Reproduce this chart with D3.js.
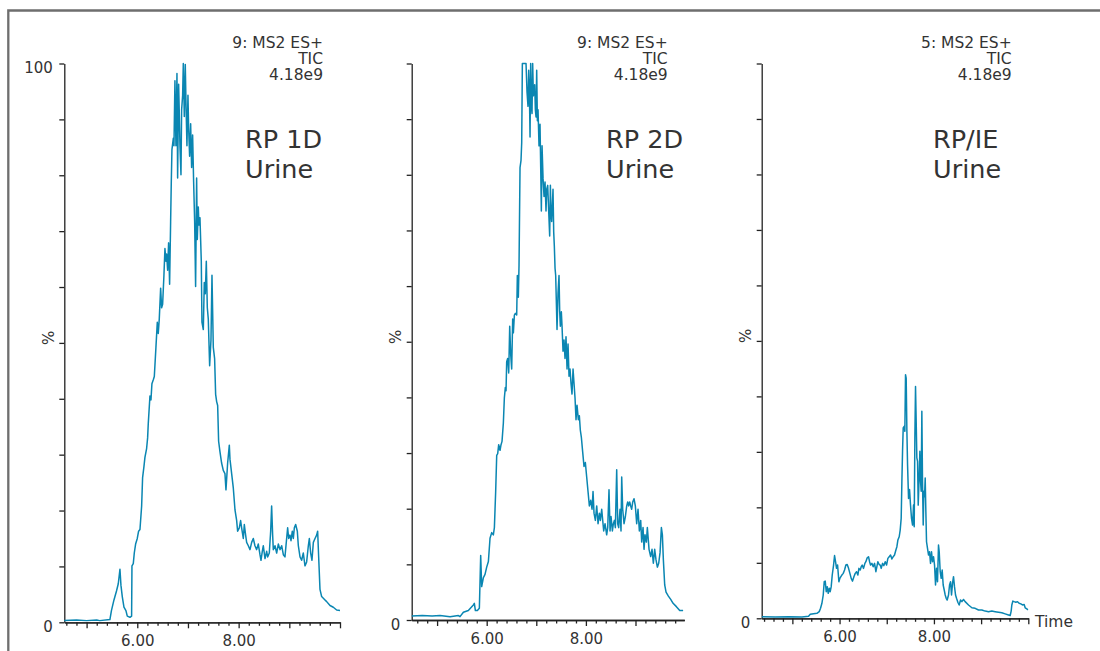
<!DOCTYPE html>
<html>
<head>
<meta charset="utf-8">
<script src="https://cdn.jsdelivr.net/npm/d3@7"></script>
<style>
    body { margin: 0; background: #fff; }
    svg { display: block; }
    text { font-family: "DejaVu Sans", Verdana, sans-serif; fill: #333; }
</style>
</head>
<body>
<svg id="chart" width="1100" height="651"></svg>
<script>
// chromatogram traces: [time (min), intensity (%)]
var rp1dTrace = [
    [4.56,0.3],[4.8,0.4],[5.0,0.3],[5.2,0.4],[5.26,0.3],[5.46,0.5],[5.49,2.1],[5.54,4.0],[5.59,5.6],[5.625,6.9],[5.658,9.5],[5.678,6.6],[5.704,4.6],[5.737,2.7],[5.776,2.1],[5.803,1.1],[5.855,0.9],[5.888,1.1],[5.895,10.1],[5.921,10.5],[5.941,12.4],[5.967,14.0],[6.0,15.0],[6.026,16.3],[6.053,16.6],[6.086,20.8],[6.105,25.9],[6.132,27.9],[6.151,29.5],[6.184,31.1],[6.204,33.0],[6.217,35.6],[6.25,40.5],[6.27,39.8],[6.289,42.7],[6.316,43.4],[6.336,44.0],[6.368,49.2],[6.395,53.7],[6.414,51.7],[6.434,54.3],[6.461,59.8],[6.48,56.3],[6.5,56.9],[6.526,62.1],[6.546,66.9],[6.566,64.6],[6.579,65.9],[6.599,63.0],[6.618,67.9],[6.638,60.5],[6.658,71.7],[6.671,78.8],[6.684,84.6],[6.711,86.6],[6.724,85.3],[6.743,96.9],[6.763,85.3],[6.783,98.2],[6.796,79.5],[6.816,96.3],[6.829,91.1],[6.842,85.3],[6.862,80.1],[6.875,91.7],[6.895,94.3],[6.908,100],[6.928,90.5],[6.947,99.8],[6.961,93.0],[6.98,85.3],[7.0,94.3],[7.013,88.5],[7.033,83.4],[7.053,89.2],[7.072,81.4],[7.092,87.2],[7.112,78.8],[7.132,71.7],[7.151,60.1],[7.171,79.5],[7.184,68.5],[7.204,74.3],[7.217,71.1],[7.237,72.4],[7.263,64.6],[7.276,53.7],[7.303,52.4],[7.322,60.8],[7.342,58.8],[7.362,64.6],[7.382,56.3],[7.401,54.3],[7.428,45.9],[7.454,50.5],[7.474,62.1],[7.5,49.2],[7.526,47.2],[7.546,40.8],[7.566,39.5],[7.586,38.8],[7.605,32.4],[7.632,30.5],[7.664,28.5],[7.697,27.2],[7.73,26.6],[7.75,23.7],[7.783,28.5],[7.816,31.7],[7.829,29.2],[7.862,26.6],[7.895,24.0],[7.928,20.1],[7.961,18.2],[7.98,16.3],[8.013,16.9],[8.039,18.2],[8.059,16.9],[8.092,15.0],[8.112,17.5],[8.138,15.6],[8.158,14.3],[8.191,13.7],[8.224,13.0],[8.257,14.3],[8.289,15.0],[8.322,13.7],[8.355,13.0],[8.388,14.0],[8.421,12.1],[8.441,11.1],[8.467,12.7],[8.487,13.7],[8.52,11.4],[8.553,12.7],[8.572,11.7],[8.605,12.4],[8.632,16.3],[8.651,20.8],[8.671,15.6],[8.684,13.0],[8.717,13.7],[8.75,12.4],[8.783,14.0],[8.816,13.0],[8.849,13.7],[8.882,12.1],[8.914,11.7],[8.947,15.0],[8.967,16.9],[8.987,15.0],[9.013,15.6],[9.033,14.6],[9.059,16.3],[9.079,15.0],[9.099,16.9],[9.125,17.5],[9.158,16.3],[9.178,13.7],[9.211,11.7],[9.243,11.1],[9.276,12.4],[9.309,10.1],[9.342,10.8],[9.375,13.7],[9.395,15.0],[9.421,12.4],[9.447,11.1],[9.474,14.3],[9.507,15.0],[9.539,15.6],[9.559,16.3],[9.579,11.7],[9.605,5.9],[9.638,4.6],[9.671,4.3],[9.704,4.0],[9.737,3.7],[9.803,3.0],[9.868,2.7],[9.934,2.2],[10.0,2.1]
];

var rp2dTrace = [
    [4.49,0.7],[4.7,0.8],[4.9,0.7],[5.059,0.8],[5.261,0.6],[5.429,0.8],[5.462,0.6],[5.53,1.4],[5.63,1.7],[5.731,2.7],[5.751,3.0],[5.772,1.7],[5.812,1.7],[5.852,2.1],[5.879,11.6],[5.899,6.0],[5.933,7.6],[5.966,8.2],[6.0,9.5],[6.034,10.5],[6.067,14.7],[6.101,15.7],[6.134,15.3],[6.155,16.6],[6.181,23.1],[6.202,29.6],[6.222,29.9],[6.242,31.5],[6.269,30.5],[6.289,31.5],[6.309,32.1],[6.336,35.4],[6.356,39.9],[6.376,41.8],[6.39,41.2],[6.403,46.4],[6.423,47.0],[6.444,44.4],[6.464,52.8],[6.484,47.7],[6.504,45.1],[6.524,54.1],[6.538,51.6],[6.558,54.8],[6.578,55.1],[6.605,54.8],[6.618,61.9],[6.638,58.0],[6.652,63.8],[6.672,81.3],[6.692,82.6],[6.706,85.8],[6.719,100],[6.739,100],[6.759,100],[6.793,100],[6.813,94.9],[6.833,92.3],[6.847,98.8],[6.86,95.5],[6.874,86.8],[6.887,100],[6.901,92.3],[6.914,91.0],[6.927,100],[6.941,94.2],[6.954,94.9],[6.968,96.2],[6.981,91.7],[6.995,90.4],[7.008,98.8],[7.022,89.7],[7.035,91.7],[7.055,85.2],[7.075,89.1],[7.089,81.3],[7.102,73.5],[7.116,85.2],[7.136,79.4],[7.156,76.1],[7.176,78.7],[7.196,73.5],[7.21,77.4],[7.23,78.1],[7.25,73.5],[7.27,69.0],[7.284,78.1],[7.297,72.9],[7.31,71.6],[7.337,77.4],[7.351,69.7],[7.364,67.1],[7.378,63.2],[7.391,61.9],[7.418,52.2],[7.438,58.7],[7.458,61.9],[7.472,55.4],[7.485,52.8],[7.505,55.4],[7.519,52.8],[7.539,48.3],[7.559,50.3],[7.579,47.0],[7.599,50.9],[7.62,45.1],[7.64,49.6],[7.66,43.8],[7.68,45.1],[7.7,42.5],[7.72,40.6],[7.741,45.1],[7.761,42.5],[7.781,39.9],[7.801,36.0],[7.821,38.6],[7.848,36.0],[7.868,36.7],[7.888,34.1],[7.909,32.8],[7.935,30.2],[7.962,27.6],[7.989,28.3],[8.016,25.7],[8.043,23.1],[8.07,20.5],[8.097,21.5],[8.124,19.9],[8.144,23.1],[8.164,19.2],[8.191,17.9],[8.218,20.5],[8.245,17.3],[8.272,19.2],[8.292,17.9],[8.319,19.9],[8.339,17.9],[8.359,16.0],[8.386,17.3],[8.419,15.3],[8.44,16.6],[8.466,23.4],[8.487,16.0],[8.507,18.6],[8.534,16.0],[8.554,17.3],[8.574,17.9],[8.594,16.6],[8.621,27.0],[8.641,17.3],[8.661,16.6],[8.688,19.9],[8.708,16.0],[8.722,25.7],[8.742,19.9],[8.769,17.3],[8.796,18.6],[8.823,20.5],[8.843,21.2],[8.863,20.5],[8.883,21.2],[8.903,20.5],[8.923,19.9],[8.944,21.2],[8.97,21.8],[8.997,20.5],[9.024,17.3],[9.051,19.9],[9.078,16.0],[9.105,17.9],[9.125,14.0],[9.152,16.6],[9.172,12.7],[9.192,15.3],[9.219,14.0],[9.239,16.6],[9.273,12.7],[9.306,11.4],[9.333,12.7],[9.36,10.2],[9.387,12.7],[9.414,10.8],[9.441,9.5],[9.468,10.2],[9.495,12.1],[9.522,16.6],[9.542,15.3],[9.562,10.8],[9.589,6.3],[9.616,5.0],[9.663,4.3],[9.71,3.7],[9.758,3.0],[9.825,2.4],[9.892,1.7],[9.96,1.7]
];

var rpieTrace = [
    [4.355,0.3],[4.637,0.24],[4.919,0.3],[5.202,0.24],[5.343,0.36],[5.379,0.72],[5.449,0.84],[5.52,0.9],[5.569,1.2],[5.597,1.8],[5.626,2.7],[5.654,4.2],[5.675,6.6],[5.696,6.7],[5.718,4.8],[5.739,5.7],[5.76,4.5],[5.781,5.4],[5.802,4.8],[5.823,5.7],[5.845,7.8],[5.873,9.6],[5.894,11.3],[5.915,10.2],[5.936,9.0],[5.958,9.6],[5.986,6.6],[6.007,7.2],[6.028,7.5],[6.049,7.8],[6.078,8.1],[6.106,8.7],[6.134,9.6],[6.162,9.7],[6.191,9.0],[6.219,8.1],[6.247,7.2],[6.275,6.7],[6.304,7.5],[6.332,8.1],[6.36,8.4],[6.388,7.8],[6.41,9.0],[6.438,8.7],[6.459,9.3],[6.48,9.6],[6.508,9.0],[6.537,9.9],[6.558,10.2],[6.586,10.9],[6.614,11.1],[6.636,10.2],[6.657,9.6],[6.685,9.9],[6.713,9.3],[6.742,9.9],[6.77,8.4],[6.791,9.3],[6.812,10.2],[6.84,9.7],[6.862,9.6],[6.883,9.0],[6.911,9.9],[6.939,9.5],[6.968,10.2],[6.996,9.6],[7.024,10.8],[7.052,11.1],[7.081,11.4],[7.109,10.7],[7.137,11.1],[7.165,11.4],[7.194,12.3],[7.215,12.9],[7.236,14.1],[7.264,14.7],[7.285,15.9],[7.306,18.0],[7.321,24.7],[7.335,30.1],[7.349,34.3],[7.37,34.6],[7.384,33.7],[7.398,43.9],[7.412,43.3],[7.427,33.7],[7.441,27.7],[7.462,21.6],[7.483,23.2],[7.504,20.4],[7.525,18.0],[7.547,16.8],[7.568,20.4],[7.582,16.5],[7.596,32.5],[7.61,41.8],[7.624,35.5],[7.638,28.9],[7.653,28.3],[7.667,20.4],[7.688,25.9],[7.702,30.1],[7.716,24.7],[7.73,22.9],[7.744,37.3],[7.758,24.7],[7.773,16.8],[7.787,22.9],[7.801,21.9],[7.815,25.3],[7.829,19.2],[7.843,13.8],[7.864,12.6],[7.886,11.4],[7.907,12.0],[7.928,9.9],[7.949,12.0],[7.97,10.2],[7.992,11.1],[8.013,9.6],[8.034,6.0],[8.055,9.0],[8.076,6.6],[8.097,13.2],[8.112,12.0],[8.133,8.4],[8.154,7.2],[8.175,8.7],[8.196,6.0],[8.218,5.1],[8.239,4.2],[8.26,3.6],[8.281,3.3],[8.309,4.2],[8.331,6.0],[8.352,6.6],[8.373,4.2],[8.394,6.3],[8.415,7.5],[8.436,5.7],[8.458,4.2],[8.479,3.6],[8.507,2.9],[8.535,2.4],[8.564,3.3],[8.592,3.0],[8.627,3.4],[8.662,3.0],[8.733,2.4],[8.804,1.9],[8.874,1.8],[8.945,1.5],[9.016,1.5],[9.086,1.3],[9.157,1.2],[9.227,1.3],[9.298,1.2],[9.369,1.1],[9.439,1.0],[9.51,0.8],[9.581,0.6],[9.616,0.5],[9.637,1.3],[9.651,2.4],[9.672,3.1],[9.701,3.0],[9.736,2.9],[9.771,3.0],[9.806,2.7],[9.842,2.6],[9.877,2.4],[9.912,2.5],[9.934,1.9],[9.969,1.7],[9.99,1.5]
];

// header text of every trace
var headers = [
    ["9: MS2 ES+", "TIC", "4.18e9"],
    ["9: MS2 ES+", "TIC", "4.18e9"],
    ["5: MS2 ES+", "TIC", "4.18e9"]
];
var sampleLabels = [["RP 1D", "Urine"], ["RP 2D", "Urine"], ["RP/IE", "Urine"]];
var timeDomains = [[4.56, 10.0], [4.488, 9.984], [4.35, 10.0]];
var timeLabels = [6, 8];
var pctTicks = d3.range(0, 101, 10);

var svg = d3.select("#chart");

// outer frame (left + top)
svg.append("path")
    .attr("d", "M8.3,651V10.5H1100")
    .attr("fill", "none")
    .attr("stroke", "#6e6e6e")
    .attr("stroke-width", 2.3);

// layout of the three panels
var layout = [
    {left: 64.3, right: 340, bottom: 622.3, headX: 323, labX: 245, showTop: true},
    {left: 411.7, right: 684.3, bottom: 620, headX: 667.7, labX: 606, showTop: false},
    {left: 761.7, right: 1028.3, bottom: 618.3, headX: 1011.7, labX: 933, showTop: false}
];
var traces = [rp1dTrace, rp2dTrace, rpieTrace];

layout.forEach(function (p, i) {
    var g = svg.append("g");

    var xScale = d3.scaleLinear().domain(timeDomains[i]).range([p.left, p.right]);
    var yScale = d3.scaleLinear().domain([0, 100]).range([p.bottom, 63.5]);

    // y axis
    var yAx = g.append("g")
        .attr("transform", "translate(" + p.left + ",0)")
        .call(d3.axisLeft(yScale)
            .tickValues(pctTicks)
            .tickSize(5)
            .tickSizeOuter(0)
            .tickPadding(6.5)
            .tickFormat(function (d) {
                if (d === 0 || (d === 100 && p.showTop)) return d;
                return "";
            }));
    yAx.selectAll("text").attr("dy", null).attr("y", 9).style("font-size", "15px");

    // x axis: minor ticks every 0.2 min
    var t0 = Math.ceil(timeDomains[i][0] * 5 - 1e-6) / 5;
    var minor = d3.range(Math.round(t0 * 5), Math.floor(timeDomains[i][1] * 5 + 1e-6) + 1)
        .map(function (k) { return k / 5; })
        .filter(function (v) { return Math.abs(v - Math.round(v)) > 1e-6; });
    var major = d3.range(Math.ceil(timeDomains[i][0]), Math.floor(timeDomains[i][1]) + 1);

    g.append("g")
        .attr("transform", "translate(0," + p.bottom + ")")
        .call(d3.axisBottom(xScale).tickValues(minor).tickSize(3.5).tickSizeOuter(0).tickFormat(""));
    var xAx = g.append("g")
        .attr("transform", "translate(0," + p.bottom + ")")
        .call(d3.axisBottom(xScale)
            .tickValues(major)
            .tickSize(6)
            .tickSizeOuter(0)
            .tickFormat(function (d) {
                return timeLabels.indexOf(d) >= 0 ? d3.format(".2f")(d) : "";
            }));
    xAx.selectAll("text").attr("dy", null).attr("y", 24).style("font-size", "15px");

    g.selectAll(".domain, .tick line").attr("stroke", "#222").attr("stroke-width", 1.3);

    // "%" label
    g.append("text")
        .attr("transform", "translate(" + (p.left - 10.5) + "," + (yScale(50) - 5) + ") rotate(-90)")
        .attr("text-anchor", "middle")
        .style("font-size", "15px")
        .text("%");

    // trace
    var line = d3.line()
        .x(function (d) { return xScale(d[0]); })
        .y(function (d) { return yScale(d[1]); });
    g.append("path")
        .datum(traces[i])
        .attr("d", line)
        .attr("fill", "none")
        .attr("stroke", "#0a86b2")
        .attr("stroke-width", 1.5)
        .attr("stroke-linejoin", "round");

    // header lines
    g.selectAll(".head")
        .data(headers[i]).enter()
        .append("text")
        .attr("x", p.headX)
        .attr("y", function (d, k) { return 47.7 + k * 16.2; })
        .attr("text-anchor", "end")
        .style("font-size", "15.5px")
        .text(function (d) { return d; });

    // sample label
    g.selectAll(".lab")
        .data(sampleLabels[i]).enter()
        .append("text")
        .attr("x", p.labX)
        .attr("y", function (d, k) { return 147.7 + k * 30; })
        .style("font-size", "25.5px")
        .text(function (d) { return d; });
});

svg.append("text")
    .attr("x", 1035)
    .attr("y", 627)
    .style("font-size", "15.5px")
    .text("Time");
</script>
</body>
</html>
